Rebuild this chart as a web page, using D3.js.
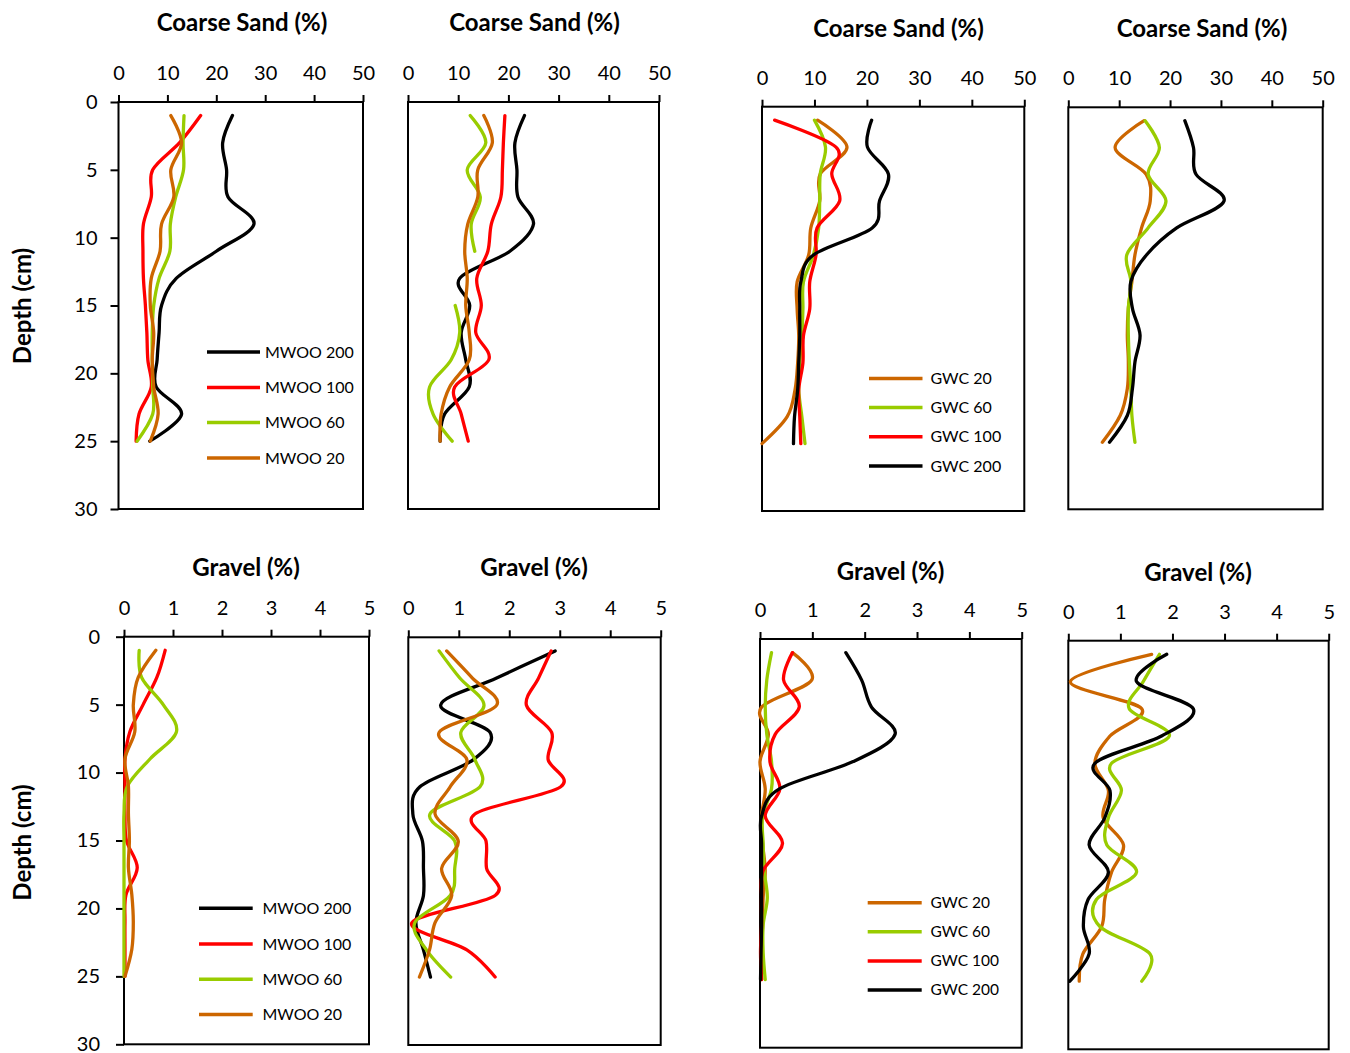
<!DOCTYPE html>
<html>
<head>
<meta charset="utf-8">
<script src="https://cdn.jsdelivr.net/npm/d3@7"></script>
<style>
  html, body { margin: 0; padding: 0; background: #fff; }
  svg { display: block; font-family: Lato, "Open Sans", sans-serif; }
</style>
</head>
<body>
<svg id="chart" width="1350" height="1053"></svg>
<script>
// ---------------- DATA ----------------
const depths = [1, 3, 5, 7, 9, 11, 13, 15, 17, 19, 21, 23, 25];
const sandTicks = [0, 10, 20, 30, 40, 50];
const gravelTicks = [0, 1, 2, 3, 4, 5];
const depthTicks = [0, 5, 10, 15, 20, 25, 30];

// Coarse sand, MWOO, left panel
const csMwooA_200 = [23.3, 21.3, 22.1, 22.4, 27.7, 20.0, 11.8, 8.8, 8.3, 7.9, 7.7, 12.9, 6.4];
const csMwooA_100 = [16.8, 12.5, 7.0, 6.7, 5.1, 5.0, 5.1, 5.5, 5.8, 6.0, 6.7, 4.2, 3.6];
const csMwooA_60  = [13.4, 13.2, 13.3, 11.7, 10.6, 10.5, 8.3, 7.2, 6.9, 6.9, 7.0, 7.0, 3.8];
const csMwooA_20  = [10.7, 12.9, 10.7, 11.3, 8.8, 8.5, 6.7, 6.5, 7.2, 6.9, 7.2, 8.1, 6.5];

// Coarse sand, MWOO, right panel
const csMwooB_200 = [23.2, 21.3, 21.7, 21.9, 25.0, 20.3, 10.3, 12.3, 10.6, 11.5, 12.2, 7.3, 6.4];
const csMwooB_100 = [19.3, 19.0, 18.8, 18.5, 16.6, 15.9, 13.7, 14.6, 13.5, 16.1, 9.3, 10.6, 12.0];
const csMwooB_60  = [12.4, 15.5, 11.8, 14.4, 12.6, 13.3, null, 9.4, 10.3, 8.6, 4.3, 5.0, 8.8];
const csMwooB_20  = [15.1, 16.8, 13.9, 13.9, 11.9, 11.3, 11.8, 11.5, 12.2, 12.2, 8.3, 6.6, 6.4];

// Coarse sand, GWC, left panel
const csGwcA_20  = [10.6, 16.2, 11.1, 11.0, 9.3, 8.9, 6.7, 6.7, 7.0, 6.8, 6.3, 4.8, 0.0];
const csGwcA_60  = [10.0, 12.1, 11.1, 11.0, 10.8, 9.8, 7.9, 7.8, 7.6, 7.2, 7.0, 7.6, 8.2];
const csGwcA_100 = [2.4, 14.1, 13.3, 14.8, 10.5, 10.3, 9.1, 9.1, 7.9, 7.8, 7.0, 7.2, 7.4];
const csGwcA_200 = [20.9, 20.1, 24.1, 22.4, 21.0, 9.8, 7.4, 7.2, 7.2, 7.0, 6.8, 6.2, 6.0];

// Coarse sand, GWC, right panel
const csGwcB_20  = [14.9, 9.2, 15.3, 16.1, 14.4, 13.1, 12.5, 11.8, 11.6, 11.8, 11.6, 10.2, 6.7];
const csGwcB_60  = [15.1, 17.9, 15.7, 19.2, 15.7, 11.5, 12.3, 11.8, 11.8, 12.0, 12.3, 12.5, 13.1];
const csGwcB_200 = [22.9, 24.6, 25.1, 30.6, 21.3, 15.4, 12.3, 12.6, 14.1, 13.1, 12.6, 11.6, 8.1];

// Gravel, MWOO, left panel (MWOO 200 shows no visible trace)
const gvMwooA_200 = [null, null, null, null, null, null, null, null, null, null, null, null, null];
const gvMwooA_100 = [0.84, 0.67, 0.39, 0.12, 0.02, 0.02, 0.02, 0.05, 0.27, 0.04, 0.02, 0.02, 0.02];
const gvMwooA_60  = [0.31, 0.36, 0.80, 1.07, 0.53, 0.07, 0, 0, 0, 0, 0, 0, 0];
const gvMwooA_20  = [0.65, 0.29, 0.19, 0.22, 0.02, 0.09, 0.09, 0.11, 0.09, 0.16, 0.19, 0.16, 0.02];

// Gravel, MWOO, right panel
const gvMwooB_200 = [2.91, 1.75, 0.64, 1.62, 1.29, 0.23, 0.09, 0.28, 0.30, 0.30, 0.15, 0.30, 0.44];
const gvMwooB_100 = [2.83, 2.58, 2.34, 2.84, 2.77, 3.02, 1.32, 1.54, 1.55, 1.72, 0.07, 1.16, 1.72];
const gvMwooB_60  = [0.61, 1.02, 1.50, 1.04, 1.32, 1.42, 0.43, 0.92, 0.92, 0.83, 0.13, 0.36, 0.84];
const gvMwooB_20  = [0.76, 1.27, 1.75, 0.61, 1.16, 0.83, 0.53, 0.99, 0.66, 0.86, 0.53, 0.42, 0.22];

// Gravel, GWC, left panel
const gvGwcA_20  = [0.62, 0.99, 0.03, 0.16, 0.00, 0.10, 0.03, 0.05, 0.10, 0.06, 0.05, 0.03, 0.03];
const gvGwcA_60  = [0.22, 0.13, 0.10, 0.13, 0.22, 0.22, 0.05, 0.06, 0.08, 0.14, 0.06, 0.06, 0.10];
const gvGwcA_100 = [0.62, 0.45, 0.75, 0.29, 0.19, 0.38, 0.10, 0.43, 0.06, 0.03, 0.03, 0.01, 0.03];
const gvGwcA_200 = [1.64, 1.94, 2.13, 2.58, 1.78, 0.37, 0.03, 0.03, 0.03, 0.03, 0.03, 0.02, 0.01];

// Gravel, GWC, right panel
const gvGwcB_20  = [1.60, 0.04, 1.41, 0.80, 0.51, 0.77, 0.67, 1.06, 0.83, 0.70, 0.64, 0.28, 0.21];
const gvGwcB_60  = [1.75, 1.44, 1.17, 1.94, 0.83, 1.02, 0.77, 0.74, 1.31, 0.54, 0.61, 1.57, 1.41];
const gvGwcB_200 = [1.89, 1.31, 2.40, 1.79, 0.51, 0.80, 0.70, 0.40, 0.77, 0.38, 0.29, 0.40, 0.03];

// ---------------- STYLE ----------------
const COL = { c200: "#000000", c100: "#ff0000", c60: "#99cc00", c20: "#cc6600" };

const mwooSeries = (a, b, c, d) => [
  { name: "MWOO 200", color: COL.c200, values: a },
  { name: "MWOO 100", color: COL.c100, values: b },
  { name: "MWOO 60",  color: COL.c60,  values: c },
  { name: "MWOO 20",  color: COL.c20,  values: d }
];
const gwcSeries = (a, b, c, d) => {
  const s = [{ name: "GWC 20", color: COL.c20, values: a },
             { name: "GWC 60", color: COL.c60, values: b }];
  if (c) s.push({ name: "GWC 100", color: COL.c100, values: c });
  s.push({ name: "GWC 200", color: COL.c200, values: d });
  return s;
};

const panels = [
  { l: 118.5, r: 363, t: 102, b: 509, xmax: 50, ticks: sandTicks, title: "Coarse Sand (%)", tx: 242, ty: 30.5,
    yAxis: true, ylabY: 306, ylPad: 13,
    series: mwooSeries(csMwooA_200, csMwooA_100, csMwooA_60, csMwooA_20),
    legend: { x1: 207, x2: 260, tx: 265, ys: [352, 387.5, 422.5, 458], fs: 16 } },
  { l: 408, r: 659, t: 102, b: 509, xmax: 50, ticks: sandTicks, title: "Coarse Sand (%)", tx: 534.5, ty: 30.5,
    series: mwooSeries(csMwooB_200, csMwooB_100, csMwooB_60, csMwooB_20) },
  { l: 762, r: 1024.3, t: 106.7, b: 511, xmax: 50, ticks: sandTicks, title: "Coarse Sand (%)", tx: 898.5, ty: 36.5,
    series: gwcSeries(csGwcA_20, csGwcA_60, csGwcA_100, csGwcA_200),
    legend: { x1: 869, x2: 922.5, tx: 930.5, ys: [378.5, 407.5, 436.8, 466], fs: 16 } },
  { l: 1068.3, r: 1322.7, t: 107.3, b: 509.3, xmax: 50, ticks: sandTicks, title: "Coarse Sand (%)", tx: 1202, ty: 36.5,
    series: gwcSeries(csGwcB_20, csGwcB_60, null, csGwcB_200) },
  { l: 124, r: 369, t: 636.7, b: 1044.3, xmax: 5, ticks: gravelTicks, title: "Gravel (%)", tx: 246, ty: 576,
    yAxis: true, ylabY: 842.5, ylPad: 16,
    series: mwooSeries(gvMwooA_200, gvMwooA_100, gvMwooA_60, gvMwooA_20),
    legend: { x1: 199, x2: 252.7, tx: 262.5, ys: [908.3, 944, 979.3, 1014.5], fs: 16 } },
  { l: 408.3, r: 660.7, t: 637.3, b: 1045, xmax: 5, ticks: gravelTicks, title: "Gravel (%)", tx: 534, ty: 576,
    series: mwooSeries(gvMwooB_200, gvMwooB_100, gvMwooB_60, gvMwooB_20) },
  { l: 760, r: 1021.7, t: 639, b: 1047.7, xmax: 5, ticks: gravelTicks, title: "Gravel (%)", tx: 890.5, ty: 580,
    series: gwcSeries(gvGwcA_20, gvGwcA_60, gvGwcA_100, gvGwcA_200),
    legend: { x1: 867.7, x2: 921.7, tx: 930.5, ys: [902.7, 931.7, 961, 990], fs: 15.5 } },
  { l: 1068.3, r: 1328.7, t: 640.7, b: 1049.3, xmax: 5, ticks: gravelTicks, title: "Gravel (%)", tx: 1198, ty: 580.5,
    series: gwcSeries(gvGwcB_20, gvGwcB_60, null, gvGwcB_200) }
];

// ---------------- DRAW ----------------
const svg = d3.select("#chart");
const fmt = d3.format("d");

panels.forEach(p => {
  const x = d3.scaleLinear().domain([0, p.xmax]).range([p.l, p.r]);
  const y = d3.scaleLinear().domain([0, 30]).range([p.t, p.b]);
  const g = svg.append("g");

  // frame
  g.append("rect")
    .attr("x", p.l).attr("y", p.t)
    .attr("width", p.r - p.l).attr("height", p.b - p.t)
    .attr("fill", "none").attr("stroke", "#000").attr("stroke-width", 2);

  // top axis
  const ax = g.append("g")
    .attr("transform", `translate(0,${p.t})`)
    .call(d3.axisTop(x).tickValues(p.ticks).tickFormat(fmt).tickSize(7).tickSizeOuter(0).tickPadding(15));
  ax.select(".domain").remove();
  ax.selectAll(".tick line").attr("stroke", "#000").attr("stroke-width", 2);
  ax.selectAll(".tick text").attr("fill", "#000").style("font-size", "20px")
    .style("font-family", "Lato, 'Open Sans', sans-serif");

  // left axis
  if (p.yAxis) {
    const ay = g.append("g")
      .attr("transform", `translate(${p.l},0)`)
      .call(d3.axisLeft(y).tickValues(depthTicks).tickFormat(fmt).tickSize(8).tickSizeOuter(0).tickPadding(p.ylPad));
    ay.select(".domain").remove();
    ay.selectAll(".tick line").attr("stroke", "#000").attr("stroke-width", 2);
    ay.selectAll(".tick text").attr("fill", "#000").style("font-size", "20px")
      .style("font-family", "Lato, 'Open Sans', sans-serif");

    g.append("text")
      .attr("transform", `translate(31,${p.ylabY}) rotate(-90)`)
      .attr("text-anchor", "middle")
      .style("font-size", "24px").style("font-weight", "bold")
      .text("Depth (cm)");
  }

  // title
  g.append("text")
    .attr("x", p.tx).attr("y", p.ty)
    .attr("text-anchor", "middle")
    .style("font-size", "24px").style("font-weight", "bold")
    .text(p.title);

  // lines
  const line = d3.line()
    .defined(d => d.v !== null)
    .x(d => x(d.v))
    .y(d => y(d.d))
    .curve(d3.curveCatmullRom.alpha(0));

  p.series.forEach(s => {
    const pts = depths.map((d, i) => ({ d: d, v: s.values[i] }));
    if (pts.every(q => q.v === null)) return;
    g.append("path")
      .datum(pts)
      .attr("d", line)
      .attr("fill", "none")
      .attr("stroke", s.color)
      .attr("stroke-width", 3.3)
      .attr("stroke-linejoin", "round")
      .attr("stroke-linecap", "round");
  });

  // legend
  if (p.legend) {
    const L = p.legend;
    p.series.forEach((s, i) => {
      g.append("line")
        .attr("x1", L.x1).attr("x2", L.x2)
        .attr("y1", L.ys[i]).attr("y2", L.ys[i])
        .attr("stroke", s.color).attr("stroke-width", 3.5);
      g.append("text")
        .attr("x", L.tx).attr("y", L.ys[i])
        .attr("dy", "0.35em")
        .style("font-size", L.fs + "px")
        .text(s.name);
    });
  }
});
</script>
</body>
</html>
